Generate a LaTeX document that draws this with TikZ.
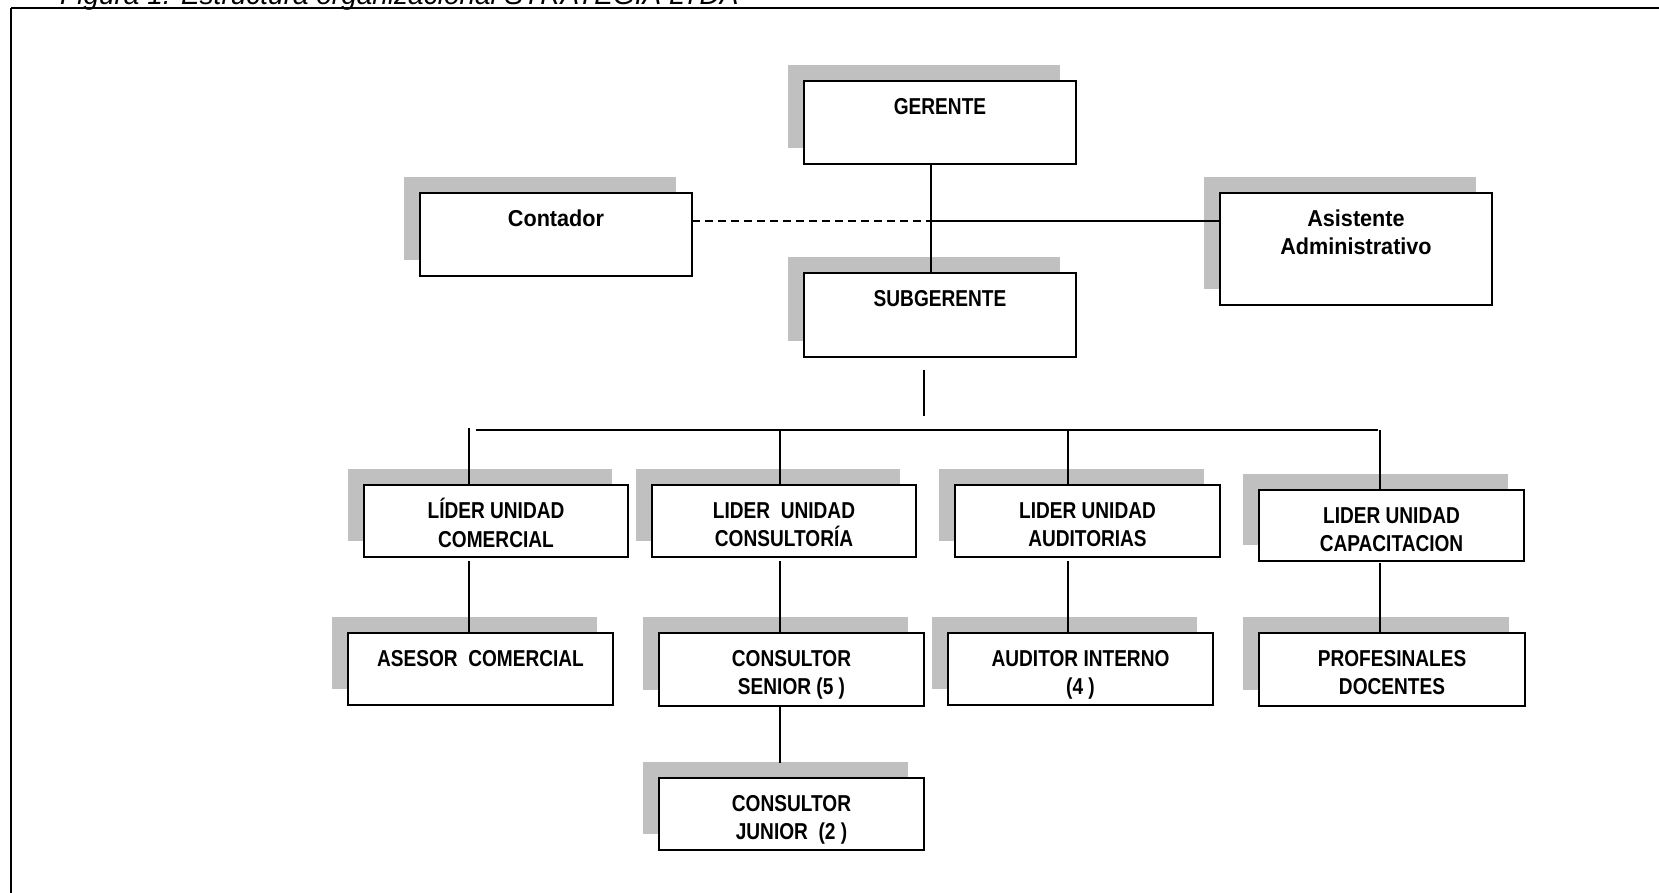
\documentclass[tikz,border=0pt]{standalone}
\usepackage{fontspec}
\setmainfont{Liberation Sans}
\newfontfamily\capsfont{Liberation Sans}[FakeStretch=0.83]
\newfontfamily\mixfont{Liberation Sans}[FakeStretch=0.94]
\definecolor{shadowgray}{HTML}{C0C0C0}
\tikzset{
  orgbox/.style={draw=black, line width=1.5pt, fill=white, inner sep=0pt, outer sep=0pt, anchor=north west},
  capstext/.style={anchor=north, inner sep=0pt, align=center, font=\capsfont\bfseries\fontsize{23}{28.6}\selectfont},
  mixtext/.style={anchor=north, inner sep=0pt, align=center, font=\mixfont\bfseries\fontsize{23}{28.6}\selectfont},
  conn/.style={draw=black, line width=1.6pt},
  dconn/.style={draw=black, line width=1.3pt, dash pattern=on 8pt off 5pt},
  caption/.style={anchor=base west, inner sep=0pt, font=\itshape\fontsize{28}{32}\selectfont},
}
% name, x1, y1, x2, y2, text style, text, extra box style
\newcommand\orgnode[8]{%
  \fill[shadowgray] (#2-16,#3-16) rectangle (#4-16,#5-16);
  \node[orgbox, minimum width=#4-#2, minimum height=#5-#3, #8] (#1) at (#2,#3) {};
  \node[#6] (#1-t) at ([yshift=-13pt]#1.north) {\rule{0pt}{20pt}#7};
}
\begin{document}
\begin{tikzpicture}[x=1pt, y=-1pt]
\useasboundingbox (0,0) rectangle (1659,893);
\fill[white] (0,0) rectangle (1659,893);

% caption (cut off at the top, as in the reference)
\node[caption] (cap) at (60,5) {Figura 1. Estructura organizacional STRATEGIA LTDA};

% frame
\coordinate (fr-tl) at (11,8);
\coordinate (fr-tr) at (1680,8);
\coordinate (fr-bl) at (11,910);
\draw[line width=2.4pt] (fr-tl) -- (fr-tr);
\draw[line width=1.5pt] (fr-tl) -- (fr-bl);

% boxes
\orgnode{ger}{804}{81}{1076}{164}{capstext}{GERENTE}{}
\orgnode{sub}{804}{273}{1076}{357}{capstext}{SUBGERENTE}{}
\orgnode{cont}{420}{193}{692}{276}{mixtext}{Contador}{}
\orgnode{asis}{1220}{193}{1492}{305}{mixtext}{Asistente\\Administrativo}{}

\orgnode{lcom}{364}{485}{628}{557}{capstext}{LÍDER UNIDAD\\COMERCIAL}{}
\orgnode{lcon}{652}{485}{916}{557}{capstext}{LIDER\ \ UNIDAD\\CONSULTORÍA}{}
\orgnode{laud}{955}{485}{1220}{557}{capstext}{LIDER UNIDAD\\AUDITORIAS}{}
\orgnode{lcap}{1259}{490}{1524}{561}{capstext}{LIDER UNIDAD\\CAPACITACION}{}

\orgnode{ases}{348}{633}{613}{705}{capstext}{ASESOR\ \ COMERCIAL}{}
\orgnode{sen}{659}{633}{924}{706}{capstext}{CONSULTOR\\SENIOR (5 )}{}
\orgnode{aud}{948}{633}{1213}{705}{capstext}{AUDITOR INTERNO\\(4 )}{}
\orgnode{prof}{1259}{633}{1525}{706}{capstext}{PROFESINALES\\DOCENTES}{line width=2.6pt}
\orgnode{jun}{659}{778}{924}{850}{capstext}{CONSULTOR\\JUNIOR\ \ (2 )}{}

% connectors top
\coordinate (gx) at (931,0);
\coordinate (hy) at (0,221);
\draw[conn] (ger.south -| gx) -- (sub.north -| gx);
\draw[dconn] (cont.east |- hy) -- (gx |- hy);
\draw[conn] (gx |- hy) -- (asis.west |- hy);

% subgerente stub and bar
\coordinate (st1) at (924,370);
\coordinate (st2) at (924,416);
\draw[conn] (st1) -- (st2);
\coordinate (barL) at (476,430);
\coordinate (barR) at (1378,430);
\draw[conn] (barL) -- (barR);

% drops
\coordinate (d1) at (469,428);
\coordinate (d2) at (780,430);
\coordinate (d3) at (1068,430);
\coordinate (d4) at (1380,430);
\draw[conn] (d1) -- (d1 |- lcom.north);
\draw[conn] (d2) -- (d2 |- lcon.north);
\draw[conn] (d3) -- (d3 |- laud.north);
\draw[conn] (d4) -- (d4 |- lcap.north);

% leader to staff
\draw[conn] ([yshift=-4pt]lcom.south -| d1) -- (ases.north -| d1);
\draw[conn] ([yshift=-4pt]lcon.south -| d2) -- (sen.north -| d2);
\draw[conn] ([yshift=-4pt]laud.south -| d3) -- (aud.north -| d3);
\draw[conn] ([yshift=-2pt]lcap.south -| d4) -- (prof.north -| d4);

% senior to junior
\coordinate (jy) at (0,763);
\draw[conn] (sen.south -| d2) -- (d2 |- jy);
\end{tikzpicture}
\end{document}
